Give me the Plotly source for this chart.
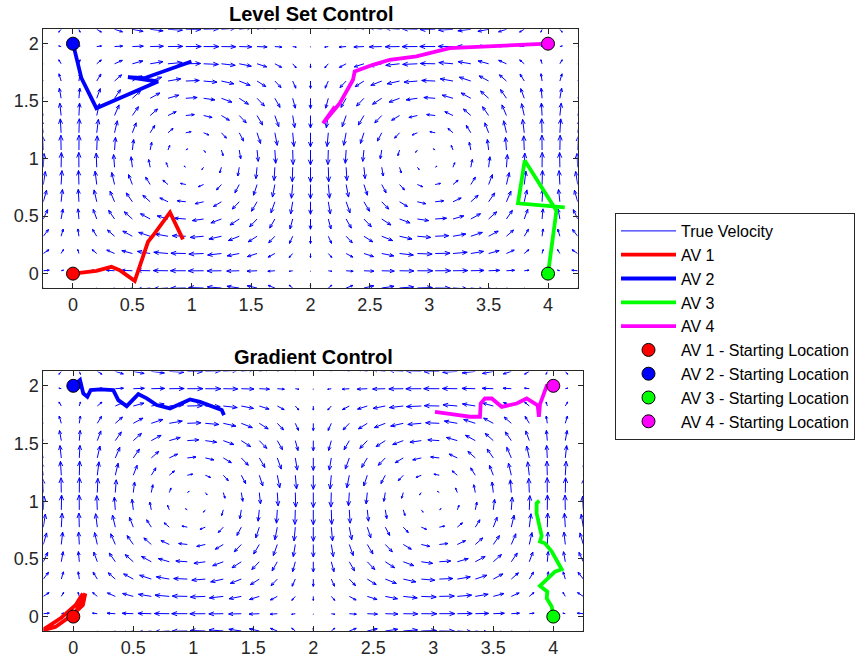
import numpy as np
import plotly.graph_objects as go

# ---------------- data ----------------
# quiver grid (true velocity field: double gyre on [0,4]x[0,2])
grid_x = np.linspace(-0.25, 4.25, 31)
grid_y = np.linspace(-0.125, 2.125, 16)
gyre_amp = 1.0

# Level Set Control trajectories
lsc_av1_x = [0, 0.197, 0.323, 0.393, 0.52, 0.632, 0.688, 0.817, 0.926]
lsc_av1_y = [0, 0.024, 0.059, 0.03, -0.063, 0.277, 0.35, 0.533, 0.298]
lsc_av2_x = [0, 0.035, 0.071, 0.113, 0.197, 0.716, 0.463, 0.60, 0.997]
lsc_av2_y = [2, 1.85, 1.70, 1.613, 1.439, 1.671, 1.709, 1.70, 1.845]
lsc_av3_x = [4, 4.071, 3.804, 3.776, 3.747, 4.141]
lsc_av3_y = [0, 0.547, 0.983, 0.814, 0.611, 0.577]
lsc_av4_x = [4, 3.509, 3.172, 2.892, 2.667, 2.526, 2.372, 2.358, 2.247, 2.105, 2.206]
lsc_av4_y = [2, 1.976, 1.962, 1.889, 1.86, 1.816, 1.758, 1.686, 1.483, 1.308, 1.453]

# Gradient Control trajectories
gc_av1_x = [0, 0.10, 0.08, 0.0, -0.15, -0.26, -0.10, 0.02, 0.08]
gc_av1_y = [0, 0.20, 0.10, 0.02, -0.09, -0.12, -0.01, 0.10, 0.20]
gc_av2_x = [0, 0.056, 0.083, 0.117, 0.145, 0.2225, 0.333, 0.375, 0.445, 0.542, 0.612,
            0.695, 0.806, 0.9725, 1.056, 1.167, 1.237, 1.256]
gc_av2_y = [2, 2.05, 1.934, 1.905, 1.963, 1.969, 1.963, 1.876, 1.824, 1.928, 1.891,
            1.833, 1.804, 1.882, 1.861, 1.818, 1.790, 1.746]
gc_av3_x = [4, 3.987, 3.945, 3.95, 3.889, 3.958, 4.014, 4.07, 4.028, 3.987, 3.931,
            3.889, 3.903, 3.883, 3.861, 3.861, 3.883]
gc_av3_y = [0, 0.087, 0.159, 0.216, 0.266, 0.332, 0.39, 0.41, 0.491, 0.563, 0.635,
            0.65, 0.699, 0.779, 0.895, 0.982, 1.004]
gc_av4_x = [4, 3.945, 3.917, 3.889, 3.88, 3.87, 3.778, 3.695, 3.57, 3.487, 3.43,
            3.395, 3.389, 3.306, 3.167, 3.014]
gc_av4_y = [2, 2.0, 1.919, 1.839, 1.732, 1.83, 1.89, 1.847, 1.818, 1.89, 1.89,
            1.847, 1.732, 1.732, 1.752, 1.775]

start_x = [0, 0, 4, 4]
start_y = [0, 2, 0, 2]

av_names = ["AV 1", "AV 2", "AV 3", "AV 4"]
av_colors = ["#FF0000", "#0000FF", "#00FF00", "#FF00FF"]

# ---------------- quiver ----------------
X, Y = np.meshgrid(grid_x, grid_y)
U = -gyre_amp * np.pi / 2 * np.sin(np.pi * X / 2) * np.cos(np.pi * Y / 2)
V = gyre_amp * np.pi / 2 * np.cos(np.pi * X / 2) * np.sin(np.pi * Y / 2)

# autoscale: longest arrow slightly shorter than one grid cell
max_arrow = 0.13
scale = max_arrow / np.sqrt(U ** 2 + V ** 2).max()
Us, Vs = U * scale, V * scale


def quiver_xy(Xa, Ya, Ua, Va, alpha=0.35, beta=0.4):
    xs, ys = [], []
    for x, y, u, v in zip(Xa.ravel(), Ya.ravel(), Ua.ravel(), Va.ravel()):
        xs += [x, x + u, None,
               x + u - alpha * (u + beta * v), x + u, x + u - alpha * (u - beta * v), None]
        ys += [y, y + v, None,
               y + v - alpha * (v - beta * u), y + v, y + v - alpha * (v + beta * u), None]
    return xs, ys


qx, qy = quiver_xy(X, Y, Us, Vs)

fig = go.Figure()

font_fam = "Liberation Sans, Arial, Helvetica, sans-serif"
axis_col = "#262626"

panels = [
    ("x", "y", [(lsc_av1_x, lsc_av1_y), (lsc_av2_x, lsc_av2_y),
                (lsc_av3_x, lsc_av3_y), (lsc_av4_x, lsc_av4_y)], True),
    ("x2", "y2", [(gc_av1_x, gc_av1_y), (gc_av2_x, gc_av2_y),
                  (gc_av3_x, gc_av3_y), (gc_av4_x, gc_av4_y)], False),
]

for xa, ya, trajs, show in panels:
    fig.add_trace(go.Scatter(x=qx, y=qy, mode="lines", xaxis=xa, yaxis=ya,
                             line=dict(color="#0000FF", width=1),
                             name="True Velocity", showlegend=show,
                             hoverinfo="skip"))
    for (tx, ty), nm, col in zip(trajs, av_names, av_colors):
        fig.add_trace(go.Scatter(x=tx, y=ty, mode="lines", xaxis=xa, yaxis=ya,
                                 line=dict(color=col, width=3.8),
                                 name=nm, showlegend=show))
    for sx, sy, nm, col in zip(start_x, start_y, av_names, av_colors):
        fig.add_trace(go.Scatter(x=[sx], y=[sy], mode="markers", xaxis=xa, yaxis=ya,
                                 marker=dict(color=col, size=13,
                                             line=dict(color="#000000", width=1)),
                                 name=nm + " - Starting Location", showlegend=show))

W, H = 857, 663
top_x = [43.3 / W, 577.7 / W]
bot_x = [43.3 / W, 583.3 / W]
top_y = [1 - 288.0 / H, 1 - 29.3 / H]
bot_y = [1 - 631.0 / H, 1 - 371.4 / H]

ax_common = dict(showline=True, linecolor=axis_col, linewidth=1, mirror="ticks",
                 ticks="inside", ticklen=5, tickcolor=axis_col, showgrid=False,
                 zeroline=False, tickfont=dict(family=font_fam, size=18, color=axis_col))

xticks = [0, 0.5, 1, 1.5, 2, 2.5, 3, 3.5, 4]
yticks = [0, 0.5, 1, 1.5, 2]
xtext = ["0", "0.5", "1", "1.5", "2", "2.5", "3", "3.5", "4"]
ytext = ["0", "0.5", "1", "1.5", "2"]

fig.update_layout(
    width=W, height=H,
    margin=dict(l=0, r=0, t=0, b=0, autoexpand=False),
    paper_bgcolor="white", plot_bgcolor="white",
    xaxis=dict(domain=top_x, range=[-0.25, 4.25], anchor="y",
               tickvals=xticks, ticktext=xtext, **ax_common),
    yaxis=dict(domain=top_y, range=[-0.125, 2.125], anchor="x",
               tickvals=yticks, ticktext=ytext, **ax_common),
    xaxis2=dict(domain=bot_x, range=[-0.25, 4.25], anchor="y2",
                tickvals=xticks, ticktext=xtext, **ax_common),
    yaxis2=dict(domain=bot_y, range=[-0.125, 2.125], anchor="x2",
                tickvals=yticks, ticktext=ytext, **ax_common),
    legend=dict(x=615 / W, y=1 - 213 / H, xanchor="left", yanchor="top",
                bgcolor="white", bordercolor=axis_col, borderwidth=1,
                font=dict(family=font_fam, size=16, color="#000000"),
                itemwidth=55, traceorder="normal"),
    showlegend=True,
    annotations=[
        dict(text="<b>Level Set Control</b>", x=(top_x[0] + top_x[1]) / 2, y=1 - 14 / H,
             xref="paper", yref="paper", showarrow=False, xanchor="center", yanchor="middle",
             font=dict(family=font_fam, size=20, color="#000000")),
        dict(text="<b>Gradient Control</b>", x=(bot_x[0] + bot_x[1]) / 2, y=1 - 357 / H,
             xref="paper", yref="paper", showarrow=False, xanchor="center", yanchor="middle",
             font=dict(family=font_fam, size=20, color="#000000")),
    ],
)

fig.write_html("out.html",
               config={"displayModeBar": False},
               post_script="document.body.style.margin='0px';document.body.style.overflow='hidden';")
